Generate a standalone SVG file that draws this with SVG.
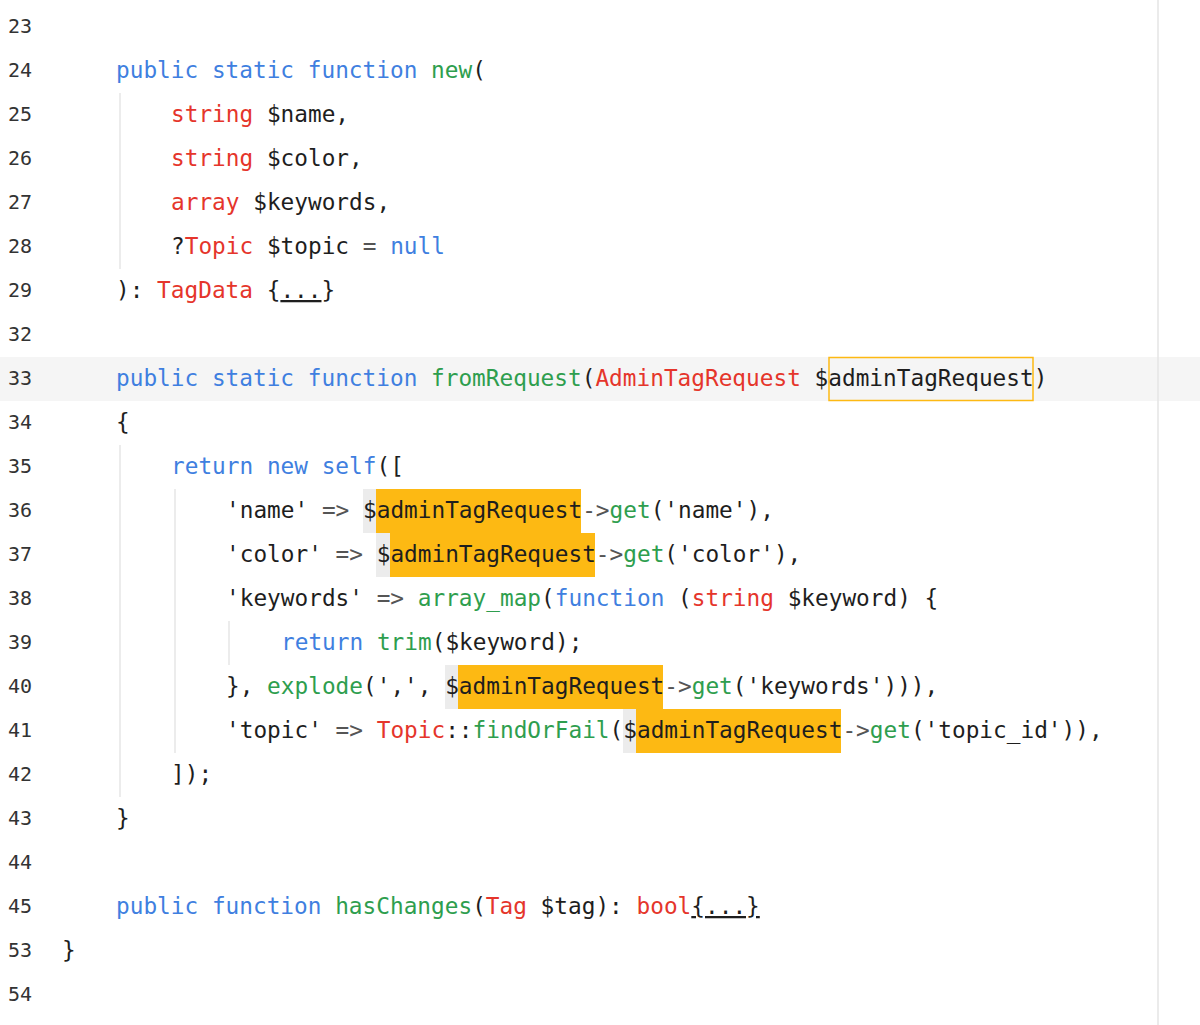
<svg xmlns="http://www.w3.org/2000/svg" width="1200" height="1025" viewBox="0 0 1200 1025">
<style>
.c{font-family:"DejaVu Sans Mono","Liberation Mono",monospace;font-size:22.75px;fill:#1e1e1e;white-space:pre}
.n{font-family:"DejaVu Sans Mono","Liberation Mono",monospace;font-size:20px;fill:#333}
.k{fill:#3f7fe0}.g{fill:#2e9e4e}.r{fill:#e5352b}.o{fill:#555}
.u{text-decoration:underline}
.hl{fill:#fdb913}.sd{fill:#ececec}.gd{stroke:#e6e6e6;stroke-width:1.5}
</style>
<rect width="1200" height="1025" fill="#fff"/>
<rect x="0" y="357" width="1200" height="44" fill="#f5f5f5"/>
<line x1="1158" y1="0" x2="1158" y2="1025" stroke="#e4e4e4" stroke-width="1.5"/>
<line class="gd" x1="120" y1="93" x2="120" y2="269"/>
<line class="gd" x1="120" y1="445" x2="120" y2="797"/>
<line class="gd" x1="175" y1="489" x2="175" y2="753"/>
<line class="gd" x1="229" y1="621" x2="229" y2="665"/>
<rect class="sd" x="363" y="489" width="14" height="44"/><rect class="hl" x="376" y="489" width="205" height="44"/>
<rect class="sd" x="376" y="533" width="14" height="44"/><rect class="hl" x="390" y="533" width="205" height="44"/>
<rect class="sd" x="445" y="665" width="14" height="44"/><rect class="hl" x="458" y="665" width="205" height="44"/>
<rect class="sd" x="623" y="709" width="14" height="44"/><rect class="hl" x="636" y="709" width="205" height="44"/>
<rect x="829" y="357.5" width="204" height="43" fill="none" stroke="#fdb913" stroke-width="1.5"/>
<g id="linenumbers">
<text class="n" x="8" y="33">23</text><text class="n" x="8" y="77">24</text><text class="n" x="8" y="121">25</text><text class="n" x="8" y="165">26</text><text class="n" x="8" y="209">27</text><text class="n" x="8" y="253">28</text><text class="n" x="8" y="297">29</text><text class="n" x="8" y="341">32</text><text class="n" x="8" y="385">33</text><text class="n" x="8" y="429">34</text><text class="n" x="8" y="473">35</text><text class="n" x="8" y="517">36</text><text class="n" x="8" y="561">37</text><text class="n" x="8" y="605">38</text><text class="n" x="8" y="649">39</text><text class="n" x="8" y="693">40</text><text class="n" x="8" y="737">41</text><text class="n" x="8" y="781">42</text><text class="n" x="8" y="825">43</text><text class="n" x="8" y="869">44</text><text class="n" x="8" y="913">45</text><text class="n" x="8" y="957">53</text><text class="n" x="8" y="1001">54</text>
</g>
<g id="code">
<text class="c" x="116" y="78"><tspan class="k">public static function</tspan> <tspan class="g">new</tspan>(</text>
<text class="c" x="171" y="122"><tspan class="r">string</tspan> $name,</text>
<text class="c" x="171" y="166"><tspan class="r">string</tspan> $color,</text>
<text class="c" x="171" y="210"><tspan class="r">array</tspan> $keywords,</text>
<text class="c" x="171" y="254">?<tspan class="r">Topic</tspan> $topic <tspan class="o">=</tspan> <tspan class="k">null</tspan></text>
<text class="c" x="116" y="298">): <tspan class="r">TagData</tspan> {<tspan class="u">...</tspan>}</text>
<text class="c" x="116" y="386"><tspan class="k">public static function</tspan> <tspan class="g">fromRequest</tspan>(<tspan class="r">AdminTagRequest</tspan> $adminTagRequest)</text>
<text class="c" x="116" y="430">{</text>
<text class="c" x="171" y="474"><tspan class="k">return new self</tspan>([</text>
<text class="c" x="226" y="518">'name' <tspan class="o">=&gt;</tspan> $adminTagRequest<tspan class="o">-&gt;</tspan><tspan class="g">get</tspan>('name'),</text>
<text class="c" x="226" y="562">'color' <tspan class="o">=&gt;</tspan> $adminTagRequest<tspan class="o">-&gt;</tspan><tspan class="g">get</tspan>('color'),</text>
<text class="c" x="226" y="606">'keywords' <tspan class="o">=&gt;</tspan> <tspan class="g">array_map</tspan>(<tspan class="k">function</tspan> (<tspan class="r">string</tspan> $keyword) {</text>
<text class="c" x="281" y="650"><tspan class="k">return</tspan> <tspan class="g">trim</tspan>($keyword);</text>
<text class="c" x="226" y="694">}, <tspan class="g">explode</tspan>(',', $adminTagRequest<tspan class="o">-&gt;</tspan><tspan class="g">get</tspan>('keywords'))),</text>
<text class="c" x="226" y="738">'topic' <tspan class="o">=&gt;</tspan> <tspan class="r">Topic</tspan>::<tspan class="g">findOrFail</tspan>($adminTagRequest<tspan class="o">-&gt;</tspan><tspan class="g">get</tspan>('topic_id')),</text>
<text class="c" x="171" y="782">]);</text>
<text class="c" x="116" y="826">}</text>
<text class="c" x="116" y="914"><tspan class="k">public function</tspan> <tspan class="g">hasChanges</tspan>(<tspan class="r">Tag</tspan> $tag): <tspan class="r">bool</tspan><tspan class="u">{...}</tspan></text>
<text class="c" x="62" y="958">}</text>
</g>
</svg>
